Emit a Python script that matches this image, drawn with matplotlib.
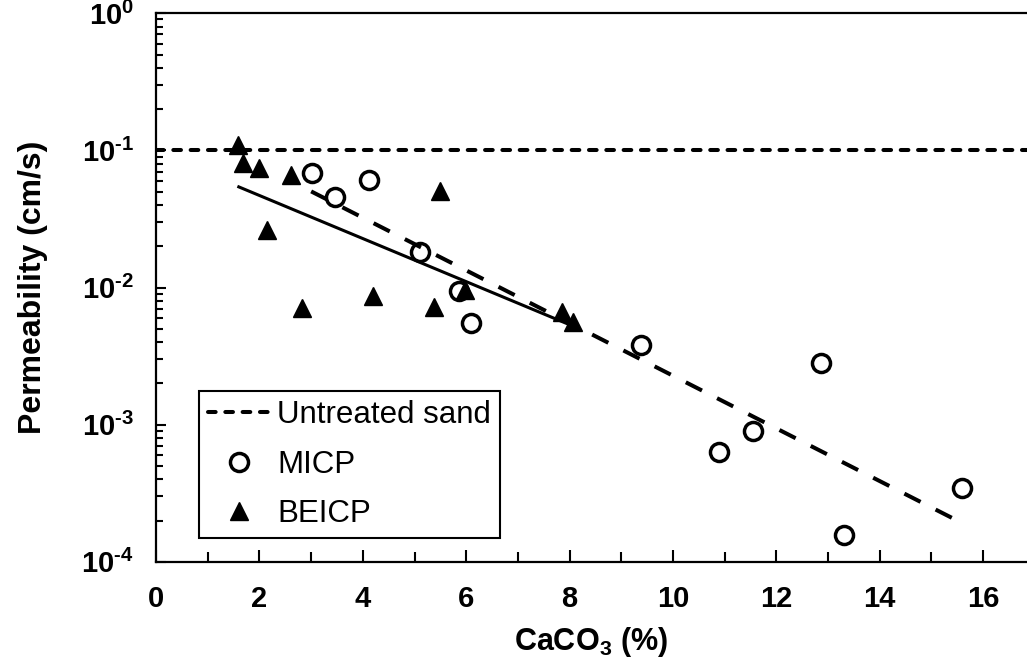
import numpy as np
import matplotlib
matplotlib.use('Agg')
import matplotlib.pyplot as plt
from matplotlib.ticker import FixedLocator, FuncFormatter, LogLocator, MultipleLocator

plt.rcParams['font.family'] = ['Liberation Sans', 'DejaVu Sans']
plt.rcParams['mathtext.fontset'] = 'custom'
plt.rcParams['mathtext.rm'] = 'Liberation Sans'
plt.rcParams['mathtext.bf'] = 'Liberation Sans:bold'

# data
micp_x = [3.02, 3.46, 4.12, 5.10, 5.86, 6.10, 9.38, 10.89, 11.55, 12.86, 13.31, 15.59]
micp_k = [0.0688, 0.0459, 0.0608, 0.0182, 0.00942, 0.00554, 0.00381,
          6.28e-4, 9.03e-4, 2.83e-3, 1.57e-4, 3.45e-4]

beicp_x = [1.59, 1.68, 1.99, 2.61, 2.15, 2.83, 4.20, 5.38, 5.50, 5.97, 7.85, 8.06]
beicp_k = [0.1095, 0.0805, 0.074, 0.0662, 0.0263, 0.00705, 0.0087, 0.00724,
           0.0508, 0.0096, 0.00666, 0.00563]

untreated_k = 0.1

# trend lines, log10(k) = a + b*x
micp_fit = (-0.723, -0.192)
micp_fit_x = (3.0, 15.6)
beicp_fit = (-1.015, -0.157)
beicp_fit_x = (1.6, 8.06)

xmax = 16.85

fig = plt.figure(figsize=(10.27, 6.61), dpi=100)
ax = fig.add_axes([0.152, 0.150, 0.848, 0.830])

ax.plot([0, xmax], [untreated_k, untreated_k], color='black', lw=2.9,
        ls=(0, (1.9, 2.4)), dash_capstyle='round', label='Untreated sand', zorder=2)

fx = np.array(micp_fit_x)
ax.plot(fx, 10 ** (micp_fit[0] + micp_fit[1] * fx), color='black', lw=2.9,
        ls=(0, (4.5, 4.2)), zorder=2)
fx = np.array(beicp_fit_x)
ax.plot(fx, 10 ** (beicp_fit[0] + beicp_fit[1] * fx), color='black', lw=2.2, zorder=2)

ax.plot(micp_x, micp_k, ls='none', marker='o', ms=13, mfc='none', mec='black',
        mew=2.5, label='MICP', zorder=3)
ax.plot(beicp_x, beicp_k, ls='none', marker='^', ms=13, mfc='black', mec='black',
        mew=1, label='BEICP', zorder=4)

ax.set_yscale('log')
ax.set_ylim(1e-4, 1)
ax.set_xlim(0, xmax)

ax.xaxis.set_major_locator(MultipleLocator(2))
ax.xaxis.set_minor_locator(MultipleLocator(1))
ax.yaxis.set_major_locator(FixedLocator([1e-4, 1e-3, 1e-2, 1e-1, 1]))
ax.yaxis.set_minor_locator(LogLocator(base=10, subs=np.arange(2, 10)))
ax.yaxis.set_major_formatter(FuncFormatter(
    lambda v, p: r'$\mathbf{10^{%s}}$' % str(int(round(np.log10(v)))).replace('-', '\u2010')))
ax.yaxis.set_minor_formatter(FuncFormatter(lambda v, p: ''))

ax.tick_params(axis='x', which='major', direction='in', length=9, width=1.5,
               labelsize=21, pad=17)
ax.tick_params(axis='x', which='minor', direction='in', length=7, width=1.5)
ax.tick_params(axis='y', which='major', direction='in', length=7, width=1.5,
               labelsize=21, pad=16)
ax.tick_params(axis='y', which='minor', direction='in', length=5, width=1.5)
for lab in ax.get_xticklabels():
    lab.set_fontweight('bold')

ax.spines['right'].set_visible(False)
for s in ['left', 'bottom', 'top']:
    ax.spines[s].set_linewidth(1.6)

ax.set_xlabel(r'$\mathbf{CaCO_3}$ (%)', fontsize=22, fontweight='bold', labelpad=8)
ax.set_ylabel('Permeability (cm/s)', fontsize=23, fontweight='bold', labelpad=24)

leg = ax.legend(loc='lower left', bbox_to_anchor=(0.049, 0.043), borderaxespad=0,
                fontsize=22.5, fancybox=False, edgecolor='black', framealpha=1,
                handlelength=2.0, handletextpad=0.2, labelspacing=0.62,
                borderpad=0.3)
leg.get_frame().set_linewidth(1.5)

fig.savefig('out.png', dpi=100)
